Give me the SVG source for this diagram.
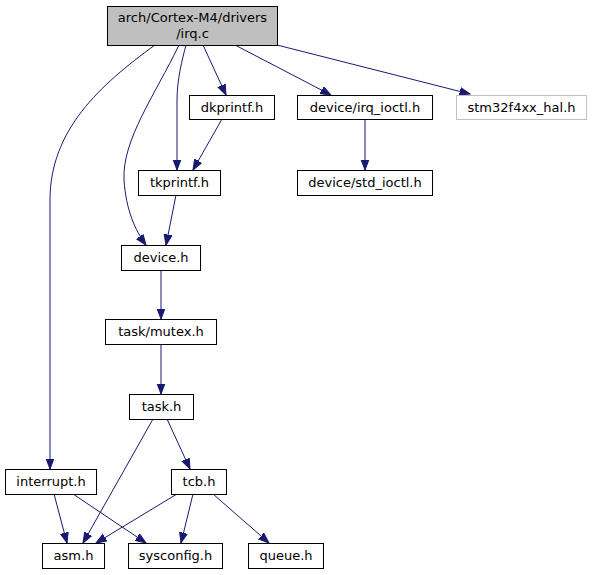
<svg xmlns="http://www.w3.org/2000/svg" width="592" height="575" viewBox="0 0 592 575">
<defs>
<marker id="ah" markerUnits="userSpaceOnUse" markerWidth="12" markerHeight="11" refX="10.5" refY="4.5" orient="auto">
<path d="M0,0.5 L10.5,4.5 L0,8.5 Z" fill="#191970" stroke="#191970" stroke-width="1"/>
</marker>
<style>
.n rect{fill:#ffffff;stroke:#000000;stroke-width:1}
.n text{font-family:"DejaVu Sans",sans-serif;font-size:13px;fill:#000000;text-anchor:middle}
.e path{fill:none;stroke:#191970;stroke-width:1;marker-end:url(#ah)}
</style>
</defs>
<rect width="592" height="575" fill="#ffffff"/>
<g id="edges" class="e">
<path d="M203,45 L226,95"/>
<path d="M235,45 L331,95"/>
<path d="M277,45 L470,94"/>
<path d="M186,45 C182,60 177,80 177,100 L177,170"/>
<path d="M179,45 C155,95 122,140 124,180 C126,210 135,230 146,245"/>
<path d="M155,45 C100,85 50,130 50,200 L50,469"/>
<path d="M222,119 L193,170"/>
<path d="M365,119 L365,170"/>
<path d="M176,195 L166,245"/>
<path d="M161,270 L161,319"/>
<path d="M161,344 L161,394"/>
<path d="M153,419 L83,543"/>
<path d="M167,419 L190,469"/>
<path d="M54,494 L67,543"/>
<path d="M73,494 L146,543"/>
<path d="M177,494 L96,543"/>
<path d="M193,494 L181,543"/>
<path d="M213,494 L269,543"/>
</g>
<g id="n_irq" class="n"><rect x="107.5" y="6.5" width="170" height="39" style="fill:#bfbfbf"/><text x="192.5" y="22">arch/Cortex-M4/drivers</text><text x="192.5" y="38">/irq.c</text></g>
<g id="n_dkprintf" class="n"><rect x="189.5" y="95.5" width="85" height="24"/><text x="232" y="112">dkprintf.h</text></g>
<g id="n_irq_ioctl" class="n"><rect x="297.5" y="95.5" width="135" height="24"/><text x="365" y="112">device/irq_ioctl.h</text></g>
<g id="n_stm32" class="n"><rect x="456.5" y="95.5" width="130" height="24" style="stroke:#bfbfbf"/><text x="521.5" y="112">stm32f4xx_hal.h</text></g>
<g id="n_tkprintf" class="n"><rect x="138.5" y="170.5" width="82" height="25"/><text x="179.5" y="187">tkprintf.h</text></g>
<g id="n_std_ioctl" class="n"><rect x="297.5" y="170.5" width="135" height="25"/><text x="365" y="187">device/std_ioctl.h</text></g>
<g id="n_device" class="n"><rect x="121.5" y="245.5" width="79" height="25"/><text x="161" y="262">device.h</text></g>
<g id="n_mutex" class="n"><rect x="105.5" y="319.5" width="111" height="25"/><text x="161" y="336">task/mutex.h</text></g>
<g id="n_task" class="n"><rect x="129.5" y="394.5" width="64" height="25"/><text x="161.5" y="411">task.h</text></g>
<g id="n_interrupt" class="n"><rect x="5.5" y="469.5" width="91" height="25"/><text x="51" y="486">interrupt.h</text></g>
<g id="n_tcb" class="n"><rect x="171.5" y="469.5" width="55" height="25"/><text x="199" y="486">tcb.h</text></g>
<g id="n_asm" class="n"><rect x="42.5" y="543.5" width="62" height="25"/><text x="73.5" y="560">asm.h</text></g>
<g id="n_sysconfig" class="n"><rect x="128.5" y="543.5" width="94" height="25"/><text x="175.5" y="560">sysconfig.h</text></g>
<g id="n_queue" class="n"><rect x="248.5" y="543.5" width="75" height="25"/><text x="286" y="560">queue.h</text></g>
</svg>
